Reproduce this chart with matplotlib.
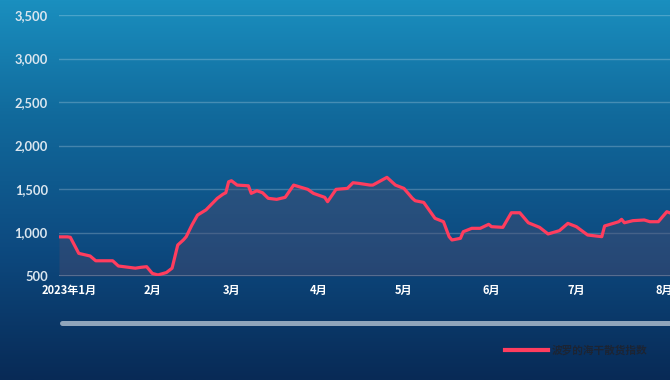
import numpy as np
import pandas as pd
import matplotlib
matplotlib.use("Agg")
import matplotlib.pyplot as plt
import matplotlib.transforms as mtransforms
from matplotlib.colors import LinearSegmentedColormap
from matplotlib.lines import Line2D

# 波罗的海干散货指数
dates = [
    "2022-12-30", "2023-01-02", "2023-01-03", "2023-01-06", "2023-01-10", "2023-01-12",
    "2023-01-18", "2023-01-20", "2023-01-26", "2023-01-28", "2023-01-30", "2023-02-01",
    "2023-02-03", "2023-02-06", "2023-02-08", "2023-02-10", "2023-02-12", "2023-02-13",
    "2023-02-15", "2023-02-17", "2023-02-20", "2023-02-24", "2023-02-26", "2023-02-27",
    "2023-02-28", "2023-03-01", "2023-03-03", "2023-03-07", "2023-03-08", "2023-03-10",
    "2023-03-12", "2023-03-14", "2023-03-17", "2023-03-20", "2023-03-23", "2023-03-28",
    "2023-03-30", "2023-04-03", "2023-04-04", "2023-04-07", "2023-04-11", "2023-04-13",
    "2023-04-15", "2023-04-19", "2023-04-20", "2023-04-25", "2023-04-28", "2023-05-01",
    "2023-05-04", "2023-05-05", "2023-05-08", "2023-05-12", "2023-05-15", "2023-05-17",
    "2023-05-18", "2023-05-21", "2023-05-22", "2023-05-25", "2023-05-28", "2023-05-31",
    "2023-06-01", "2023-06-05", "2023-06-08", "2023-06-11", "2023-06-14", "2023-06-18",
    "2023-06-21", "2023-06-25", "2023-06-28", "2023-07-01", "2023-07-05", "2023-07-10",
    "2023-07-11", "2023-07-16", "2023-07-17", "2023-07-18", "2023-07-21", "2023-07-25",
    "2023-07-27", "2023-07-30", "2023-08-02", "2023-08-03",
]
values = [
    950, 950, 945, 760, 730, 675,
    675, 615, 590, 600, 607, 530,
    512, 540, 590, 856, 915, 952,
    1085, 1200, 1260, 1393, 1440, 1457,
    1583, 1595, 1545, 1537, 1450, 1480,
    1457, 1393, 1381, 1404, 1545, 1496,
    1450, 1404, 1354, 1496, 1507, 1572,
    1565, 1545, 1545, 1634, 1545, 1507,
    1393, 1365, 1346, 1163, 1124, 952,
    914, 933, 1009, 1048, 1048, 1094,
    1067, 1059, 1227, 1227, 1112, 1059,
    983, 1021, 1105, 1067, 971, 952,
    1075, 1124, 1151, 1112, 1136, 1144,
    1124, 1124, 1239, 1227,
]
series_name = "波罗的海干散货指数"
month_ticks = ["2023-01-01", "2023-02-01", "2023-03-01", "2023-04-01",
               "2023-05-01", "2023-06-01", "2023-07-01", "2023-08-01"]
month_labels = ["2023年1月", "2月", "3月", "4月", "5月", "6月", "7月", "8月"]
y_ticks = [500, 1000, 1500, 2000, 2500, 3000, 3500]

x = pd.to_datetime(dates)
W, H = 670, 380
fig = plt.figure(figsize=(W / 100, H / 100), dpi=100)

# background gradient
bg = fig.add_axes([0, 0, 1, 1], zorder=-10)
cmap = LinearSegmentedColormap.from_list(
    "bg", [(0.0, "#1a8fbf"), (0.3, "#116a9c"), (0.65, "#0d4a80"), (1.0, "#082a56")])
bg.imshow(np.linspace(0, 1, 256).reshape(-1, 1), aspect="auto", cmap=cmap,
          extent=[0, 1, 0, 1], origin="upper")
bg.axis("off")

ax = fig.add_axes([59 / W, 1 - 276 / H, 1 - 59 / W, (276 - 15) / H])
ax.set_facecolor("none")
ax.plot(x, values, color="#ff3d5e", lw=2.3, solid_joinstyle="round", zorder=3)
ax.fill_between(x, values, 500, color="#4b4b6e", alpha=0.42, lw=0, zorder=2)

ax.set_ylim(500, 3500)
ax.set_xlim(pd.Timestamp("2022-12-30"), pd.Timestamp("2023-08-03 03:00"))
ax.set_yticks(y_ticks)
ax.set_yticklabels([f"{v:,}" for v in y_ticks], fontfamily="Lato",
                   fontweight="bold", fontsize=9.3, color="#dbe6ef")
ax.set_xticks(pd.to_datetime(month_ticks))
ax.set_xticklabels(month_labels, fontfamily="Noto Sans CJK SC",
                   fontweight="bold", fontsize=8, color="white")
ax.tick_params(axis="both", length=0)
ax.tick_params(axis="y", pad=8)
ax.tick_params(axis="x", pad=6)
ax.grid(axis="y", color="white", alpha=0.22, lw=1)
for s in ax.spines.values():
    s.set_visible(False)
ax.axhline(500, color="white", alpha=0.4, lw=1.2, zorder=1)

# first month label sits a little right of its tick
first = ax.get_xticklabels()[0]
first.set_transform(first.get_transform() +
                    mtransforms.ScaledTranslation(5 / 100, 0, fig.dpi_scale_trans))

# zoom slider bar
fig.add_artist(Line2D([62 / W, 1.02], [1 - 323 / H] * 2, transform=fig.transFigure,
                      color="#8fa5bb", lw=3.6, solid_capstyle="round"))

# legend
handle = Line2D([], [], color="#ff3d5e", lw=3)
fig.legend([handle], [series_name], loc="center left",
           bbox_to_anchor=(505 / W, 1 - 350 / H), frameon=False,
           handlelength=4.0, handletextpad=0.4, borderpad=0, borderaxespad=0,
           prop={"family": "Noto Sans CJK SC", "weight": "bold", "size": 7.7},
           labelcolor="#1c2433")

fig.savefig("out.png", dpi=100)
